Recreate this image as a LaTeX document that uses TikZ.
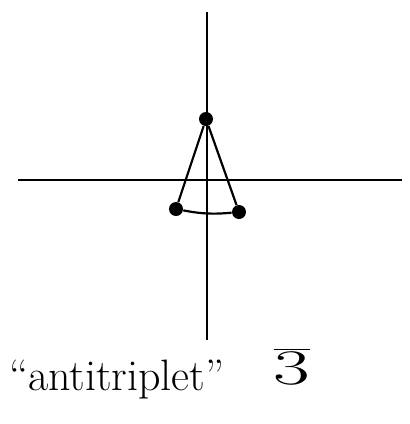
\documentclass[tikz,border=0pt]{standalone}
\usepackage{tikz}
\usetikzlibrary{positioning,calc}
\tikzset{
  dot/.style={circle,fill,inner sep=0pt,minimum size=7pt},
  axis/.style={line width=1.1pt},
  leg/.style={line width=1.1pt},
}
\begin{document}
\begin{tikzpicture}[x=0.5pt,y=-0.5pt,font=\fontsize{22}{26}\selectfont]
  \useasboundingbox (0,0) rectangle (409,424);
  \draw[axis] (207,12) -- (207,340);
  \draw[axis] (18,180) -- (402,180);
  \node[dot] (top) at (206,119) {};
  \node[dot] (left) at (176,209) {};
  \node[dot] (right) at (239,212) {};
  \draw[leg] (top) -- (left);
  \draw[leg] (top) -- (right);
  \draw[leg] (left) to[bend right=8] (right);
  \node[anchor=west] (name) at (2,380) {``antitriplet''};
  \node (irrep) at (292,366) {\fontsize{27}{30}\selectfont\scalebox{1.6}[1]{$\overline{3}$}};
\end{tikzpicture}
\end{document}
